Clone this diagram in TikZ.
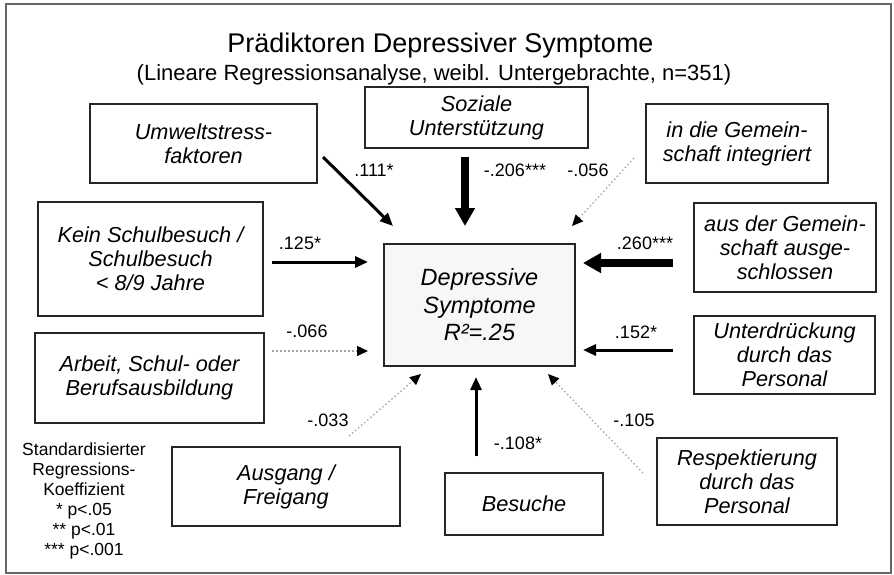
\documentclass[tikz,border=0pt]{standalone}
\usepackage{fontspec}
\setmainfont{Liberation Sans}
\usetikzlibrary{arrows.meta}
\begin{document}
\begin{tikzpicture}[x=1pt,y=-1pt,
  box/.style={draw=black!85, line width=1.4pt, inner sep=0pt, align=center,
    font=\fontsize{21.7}{24}\selectfont\itshape},
  lab/.style={font=\fontsize{18}{20}\selectfont, inner sep=0pt, anchor=base},
  solidarr/.style={line width=3pt, -{Triangle[length=13pt,width=11pt]}},
  thickarr/.style={line width=7.5pt, -{Triangle[length=18pt,width=19pt]}},
  dotarr/.style={line width=1.3pt, gray!70, dash pattern=on 1.5pt off 2.5pt,
    -{Triangle[length=11pt,width=10pt,color=black]}},
]
\useasboundingbox (0,0) rectangle (894,574);
\draw[black!60, line width=1.2pt] (6,4) rectangle (891,573);

% titles
\node[font=\fontsize{27}{30}\selectfont, inner sep=0pt, anchor=base] (title) at (440.5,52) {Prädiktoren Depressiver Symptome};
\node[font=\fontsize{22}{24}\selectfont, inner sep=0pt, anchor=base] (subtitle) at (434,80) {(Lineare Regressionsanalyse, weibl. Untergebrachte, n=351)};

% boxes
\node[box, minimum width=227pt, minimum height=79pt] (umw) at (203.5,143.5) {Umweltstress-\\faktoren};
\node[box, minimum width=223pt, minimum height=61pt] (soz) at (476.5,117.5) {Soziale\\Unterstützung};
\node[box, minimum width=182pt, minimum height=79pt] (gem) at (737,143.5) {in die Gemein-\\schaft integriert};
\node[box, minimum width=225pt, minimum height=114pt] (kein) at (150.5,259) {Kein Schulbesuch /\\Schulbesuch\\< 8/9 Jahre};
\node[box, minimum width=182pt, minimum height=89pt] (aus) at (785,247.5) {aus der Gemein-\\schaft ausge-\\schlossen};
\node[box, minimum width=191pt, minimum height=122pt, fill=gray!6,
  font=\fontsize{23.5}{27.5}\selectfont\itshape] (dep) at (479.5,305) {Depressive\\Symptome\\R²=.25};
\node[box, minimum width=229pt, minimum height=90pt] (arb) at (149.5,378) {Arbeit, Schul- oder\\Berufsausbildung};
\node[box, minimum width=181pt, minimum height=78pt] (unt) at (784.5,355) {Unterdrückung\\durch das\\Personal};
\node[box, minimum width=228pt, minimum height=79pt] (ausg) at (286,486.5) {Ausgang /\\Freigang};
\node[box, minimum width=158pt, minimum height=62pt] (bes) at (524,504) {Besuche};
\node[box, minimum width=180pt, minimum height=87pt] (res) at (747,481.5) {Respektierung\\durch das\\Personal};

% arrow end points
\coordinate (umwS) at (323,157);  \coordinate (umwE) at (393,226);
\coordinate (sozS) at (465,157);  \coordinate (sozE) at (465,226);
\coordinate (gemS) at (634,158);  \coordinate (gemE) at (572,226);
\coordinate (keinS) at (272,262); \coordinate (keinE) at (368,262);
\coordinate (ausS) at (673,263);  \coordinate (ausE) at (583,263);
\coordinate (arbS) at (272,351);  \coordinate (arbE) at (368,351);
\coordinate (untS) at (673,350);  \coordinate (untE) at (583,350);
\coordinate (ausgS) at (349,436); \coordinate (ausgE) at (421,374);
\coordinate (besS) at (476,456);  \coordinate (besE) at (476,377);
\coordinate (resS) at (643,473);  \coordinate (resE) at (548,374);

\draw[solidarr] (umwS) -- (umwE);
\draw[thickarr] (sozS) -- (sozE);
\draw[dotarr] (gemS) -- (gemE);
\draw[solidarr] (keinS) -- (keinE);
\draw[thickarr] (ausS) -- (ausE);
\draw[dotarr] (arbS) -- (arbE);
\draw[solidarr] (untS) -- (untE);
\draw[dotarr] (ausgS) -- (ausgE);
\draw[solidarr] (besS) -- (besE);
\draw[dotarr] (resS) -- (resE);

% coefficient labels
\node[lab] (l1) at (374,176) {.111*};
\node[lab] (l2) at (515,176) {-.206***};
\node[lab] (l3) at (588,176) {-.056};
\node[lab] (l4) at (300,249) {.125*};
\node[lab] (l5) at (645,249) {.260***};
\node[lab] (l6) at (307,337.5) {-.066};
\node[lab] (l7) at (636,338) {.152*};
\node[lab] (l8) at (328,426) {-.033};
\node[lab] (l9) at (518,449) {-.108*};
\node[lab] (l10) at (634,426) {-.105};

% legend
\node[font=\fontsize{17.5}{20}\selectfont, align=center, inner sep=0pt] (legend) at (84,501)
  {Standardisierter\\Regressions-\\Koeffizient\\* p<.05\\** p<.01\\*** p<.001};
\end{tikzpicture}
\end{document}
